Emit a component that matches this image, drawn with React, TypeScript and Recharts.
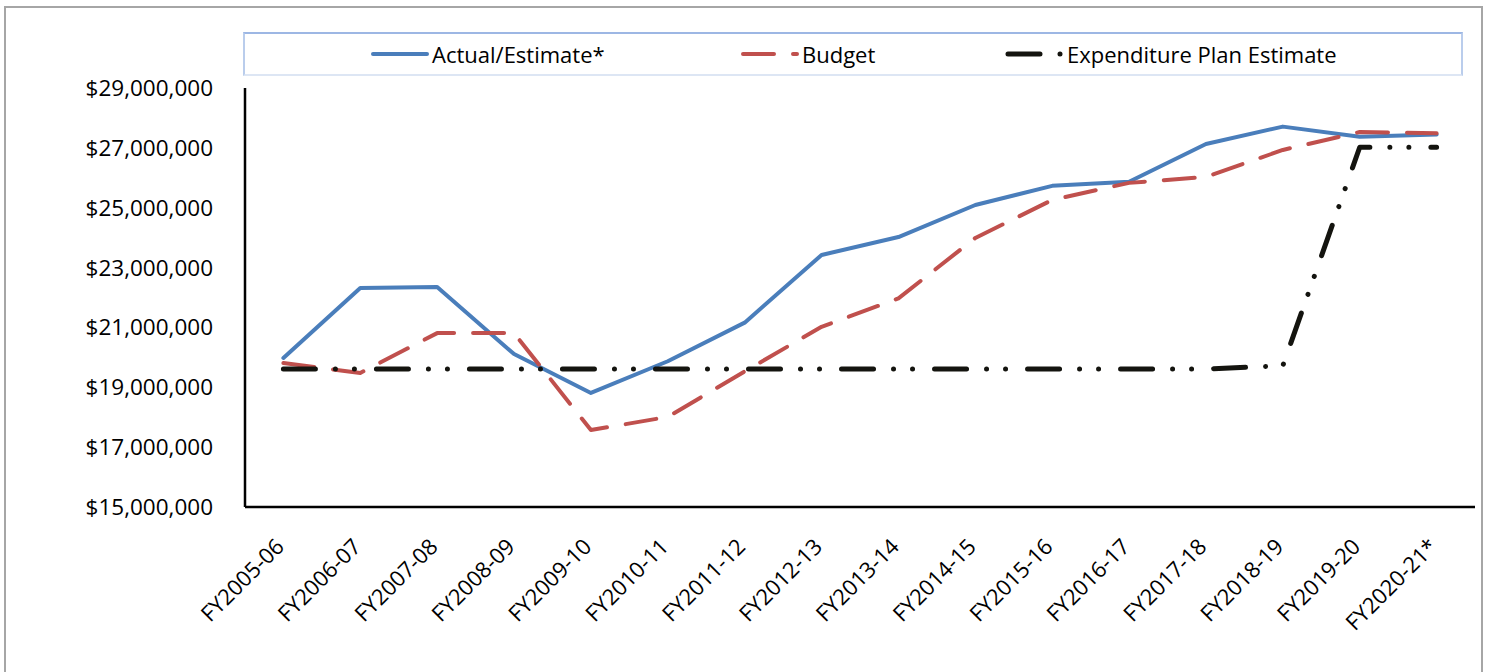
import { LineChart, Line, XAxis, YAxis, Legend } from "recharts";

const years = [
  "FY2005-06", "FY2006-07", "FY2007-08", "FY2008-09", "FY2009-10", "FY2010-11",
  "FY2011-12", "FY2012-13", "FY2013-14", "FY2014-15", "FY2015-16", "FY2016-17",
  "FY2017-18", "FY2018-19", "FY2019-20", "FY2020-21*",
];

const actual = [
  19980000, 22320000, 22350000, 20110000, 18810000, 19870000, 21160000, 23420000,
  24020000, 25090000, 25730000, 25870000, 27130000, 27710000, 27370000, 27450000,
];

const budget = [
  19810000, 19480000, 20810000, 20810000, 17570000, 18010000, 19530000, 21020000,
  21970000, 23990000, 25260000, 25830000, 26030000, 26930000, 27530000, 27490000,
];

const planEstimate = [
  19610000, 19610000, 19610000, 19610000, 19610000, 19610000, 19610000, 19610000,
  19610000, 19610000, 19610000, 19610000, 19610000, 19720000, 27020000, 27020000,
];

const yTicks = [15000000, 17000000, 19000000, 21000000, 23000000, 25000000, 27000000, 29000000];

const data = years.map((year, i) => ({
  year,
  actual: actual[i],
  budget: budget[i],
  plan: planEstimate[i],
}));

const FONT = "'Open Sans', 'Noto Sans', sans-serif";

// series look, shared by lines and legend samples (legendX = item offset inside legend box)
const series = [
  { key: "actual", name: "Actual/Estimate*", color: "#4A7EBB", width: 4, dash: undefined, legendX: 125 },
  { key: "budget", name: "Budget", color: "#C0504D", width: 4, dash: "31 19", legendX: 495 },
  { key: "plan", name: "Expenditure Plan Estimate", color: "#14140F", width: 5, dash: "32 20 0.01 19 0.01 22", legendX: 760 },
];

const money = (v: number) => "$" + v.toLocaleString("en-US");

function XTick({ x, y, payload }: any) {
  return (
    <g transform={`translate(${x + 2},${y + 41})`}>
      <text
        x={0}
        y={0}
        textAnchor="end"
        transform="rotate(-45)"
        fontSize={22}
        fontFamily={FONT}
        fill="#000"
      >
        {payload.value}
      </text>
    </g>
  );
}

function LegendBox() {
  return (
    <div
      style={{
        position: "relative",
        width: 1220,
        height: 44,
        boxSizing: "border-box",
        borderStyle: "solid",
        borderWidth: 2,
        borderColor: "#9DB7E4 #BACDEC #DDE6F4 #BACDEC",
        fontFamily: FONT,
        fontSize: 22,
        color: "#000",
      }}
    >
      {series.map((s) => (
        <div
          key={s.key}
          style={{
            position: "absolute",
            left: s.legendX,
            top: 0,
            height: 40,
            display: "flex",
            alignItems: "center",
            whiteSpace: "nowrap",
          }}
        >
          <svg width={60} height={12}>
            <line
              x1={3}
              y1={6}
              x2={57}
              y2={6}
              stroke={s.color}
              strokeWidth={s.width}
              strokeDasharray={s.dash}
              strokeLinecap="round"
            />
          </svg>
          <span style={{ marginLeft: 2 }}>{s.name}</span>
        </div>
      ))}
    </div>
  );
}

export default function App() {
  return (
    <div
      style={{
        position: "fixed",
        left: 0,
        top: 0,
        width: 1489,
        height: 672,
        overflow: "hidden",
        background: "#fff",
      }}
    >
      <div
        style={{
          position: "absolute",
          left: 4,
          top: 6,
          width: 1479,
          height: 700,
          boxSizing: "border-box",
          border: "2px solid #A6A6A6",
        }}
      />
      <div style={{ position: "absolute", left: 0, top: 0 }}>
        <LineChart
          width={1489}
          height={672}
          data={data}
          margin={{ top: 88, right: 14, bottom: 0, left: 0 }}
        >
          <XAxis
            dataKey="year"
            height={165}
            padding={{ left: 38.4, right: 38.4 }}
            axisLine={{ stroke: "#000", strokeWidth: 2.5 }}
            tickLine={false}
            tickSize={0}
            tickMargin={0}
            interval={0}
            tick={<XTick />}
          />
          <YAxis
            width={245}
            domain={[15000000, 29000000]}
            ticks={yTicks}
            allowDataOverflow
            axisLine={{ stroke: "#000", strokeWidth: 2.5 }}
            tickLine={false}
            tickSize={0}
            tickMargin={32}
            tickFormatter={money}
            tick={{ fontSize: 22.5, fontFamily: FONT, fill: "#000" }}
          />
          <Legend
            verticalAlign="middle"
            layout="horizontal"
            wrapperStyle={{ left: 243, top: 32, width: 1220, height: 44 }}
            content={<LegendBox />}
          />
          {series.map((s) => (
            <Line
              key={s.key}
              type="linear"
              dataKey={s.key}
              name={s.name}
              stroke={s.color}
              strokeWidth={s.width}
              strokeDasharray={s.dash}
              strokeLinecap="round"
              strokeLinejoin="round"
              dot={false}
              activeDot={false}
              isAnimationActive={false}
            />
          ))}
        </LineChart>
      </div>
    </div>
  );
}
